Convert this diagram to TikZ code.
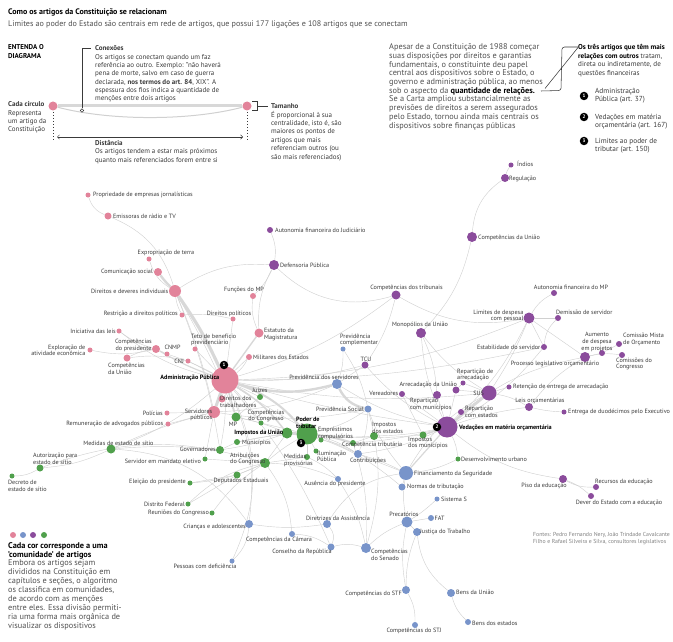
\documentclass[tikz,border=0pt]{standalone}
\usepackage{fontspec}
\setmainfont{PT Sans}
\usetikzlibrary{backgrounds,arrows.meta}
\definecolor{cpk}{HTML}{E2839A}
\definecolor{cbl}{HTML}{7894CA}
\definecolor{cpu}{HTML}{8B4C9C}
\definecolor{cgr}{HTML}{50A04C}
\definecolor{edg}{HTML}{D0D0D0}
\definecolor{edk}{HTML}{D8D8D8}
\definecolor{txt}{HTML}{3A3A3A}
\definecolor{para}{HTML}{505050}
\newcommand\fsz[2]{\fontsize{#1}{#2}\selectfont}
\newcommand\art[5]{\node[dot=#4pt,fill=#5] (#1) at (#2,#3) {};}
\tikzset{
  dot/.style={circle,inner sep=0pt,minimum size=#1,draw=none},
  lb/.style={font=\fsz{6.15}{6.6},text=txt,inner sep=0pt,align=left},
  lbr/.style={lb,align=right},
  lbc/.style={lb,align=center},
  lbb/.style={lb,font=\fsz{6.2}{6.8}\bfseries,text=black},
  badge/.style={circle,fill=black,text=white,inner sep=0pt,minimum size=8.5pt,font=\fsz{5}{5}\bfseries},
  thk/.style={draw=edk,line width=#1},
  ptxt/.style={inner sep=0pt,text=para,align=left},
}
\begin{document}
\begin{tikzpicture}[x=1pt,y=-1pt]
\useasboundingbox (0,0) rectangle (673,642);

% ---------- header ----------
\node[anchor=base west,inner sep=0pt,font=\fsz{8}{9}\bfseries] (title) at (8,14.5) {Como os artigos da Constituição se relacionam};
\node[anchor=base west,inner sep=0pt,font=\fsz{8.1}{9},text=para] (sub) at (8,26.5) {Limites ao poder do Estado são centrais em rede de artigos, que possui 177 ligações e 108 artigos que se conectam};

% ---------- legend diagram ----------
\node[anchor=north west,inner sep=0pt,align=left,font=\fsz{7}{9}\bfseries] (ent) at (8,44.5) {ENTENDA O\\DIAGRAMA};
\node[dot=9pt,fill=cpk] (lgA) at (53,106) {};
\node[dot=9pt,fill=cpk] (lgB) at (247,106) {};
\draw[thk=3pt] (lgA) -- (lgB);
\draw[draw=edg,line width=1pt] (lgA) .. controls (110,121) and (190,121) .. (lgB);
\node[circle,draw=txt,fill=white,inner sep=0pt,minimum size=3.6pt,line width=0.5pt] (lgC) at (82,110.5) {};
\coordinate (lgC1) at (82,48);
\coordinate (lgC2) at (91,48);
\draw[txt,line width=0.5pt] (lgC) -- (lgC1) -- (lgC2);
\coordinate (dA1) at (53,112); \coordinate (dA2) at (53,141);
\coordinate (dB1) at (247,112); \coordinate (dB2) at (247,141);
\draw[txt,line width=0.5pt,dash pattern=on 1.5pt off 1.5pt] (dA1) -- (dA2);
\draw[txt,line width=0.5pt,dash pattern=on 1.5pt off 1.5pt] (dB1) -- (dB2);
\coordinate (arL) at (57,137); \coordinate (arR) at (243,137);
\draw[txt,line width=0.45pt,{Straight Barb[length=2.2pt]}-{Straight Barb[length=2.2pt]}] (arL) -- (arR);
\coordinate (brA) at (252,101.5); \coordinate (brB) at (257,101.5); \coordinate (brC) at (257,110.5); \coordinate (brD) at (252,110.5);
\coordinate (brE) at (257,106); \coordinate (brF) at (268,106);
\draw[txt,line width=0.5pt] (brA) -- (brB) -- (brC) -- (brD);
\draw[txt,line width=0.5pt] (brE) -- (brF);

\node[ptxt,anchor=north west,font=\fsz{7}{8.35},text=txt] (conex) at (95,45.5) {\textbf{Conexões}\\Os artigos se conectam quando um faz\\referência ao outro. Exemplo: "não haverá\\pena de morte, salvo em caso de guerra\\declarada, \textbf{nos termos do art. 84}, XIX". A\\espessura dos fios indica a quantidade de\\menções entre dois artigos};
\node[ptxt,anchor=north west,font=\fsz{7}{8.4},text=txt] (cadac) at (8,101.5) {\textbf{Cada círculo}\\Representa\\um artigo da\\Constituição};
\node[ptxt,anchor=north west,font=\fsz{7}{8.1},text=txt] (dist) at (95,140.5) {\textbf{Distância}\\Os artigos tendem a estar mais próximos\\quanto mais referenciados forem entre si};
\node[ptxt,anchor=north west,font=\fsz{7}{8.4},text=txt] (taman) at (271,103.5) {\textbf{Tamanho}\\É proporcional à sua\\centralidade, isto é, são\\maiores os pontos de\\artigos que mais\\referenciam outros (ou\\são mais referenciados)};

% ---------- middle paragraph ----------
\node[ptxt,anchor=north west,font=\fsz{8.3}{8.72}] (mainp) at (389,43.5) {Apesar de a Constituição de 1988 começar\\suas disposições por direitos e garantias\\fundamentais, o constituinte deu papel\\central aos dispositivos sobre o Estado, o\\governo e administração pública, ao menos\\sob o aspecto da \textbf{\color{black}quantidade de relações.}\\Se a Carta ampliou substancialmente as\\previsões de direitos a serem assegurados\\pelo Estado, tornou ainda mais centrais os\\dispositivos sobre finanças públicas};
\coordinate (zA) at (578,47); \coordinate (zB) at (562,47); \coordinate (zC) at (561,90.5); \coordinate (zD) at (541,91);
\coordinate (zE) at (545,88.5); \coordinate (zF) at (578,47.5);
\draw[txt,line width=0.55pt,rounded corners=2.5pt] (zA) -- (zB) -- (zC) -- (zD);
\draw[txt,line width=0.55pt] (zE) -- (zF);

% ---------- right column ----------
\node[ptxt,anchor=north west,font=\fsz{7.1}{8.7},text=txt] (tres) at (578,44) {\textbf{\color{black}Os três artigos que têm mais}\\\textbf{\color{black}relações com outros} tratam,\\direta ou indiretamente, de\\questões financeiras};
\node[badge] (k1) at (584,96) {1};
\node[badge] (k2) at (584,117) {2};
\node[badge] (k3) at (584,141) {3};
\node[ptxt,anchor=west,font=\fsz{7.3}{8.4},text=txt] (k1t) at (595,95.5) {Administração\\Pública (art. 37)};
\node[ptxt,anchor=west,font=\fsz{7.3}{8.4},text=txt] (k2t) at (595,121.5) {Vedações em matéria\\orçamentária (art. 167)};
\node[ptxt,anchor=west,font=\fsz{7.3}{8.4},text=txt] (k3t) at (595,145.5) {Limites ao poder de\\tributar (art. 150)};

% ---------- bottom-left legend ----------
\node[dot=6pt,fill=cpk] (c1) at (13,535) {};
\node[dot=6pt,fill=cbl] (c2) at (23,535) {};
\node[dot=6pt,fill=cpu] (c3) at (33,535) {};
\node[dot=6pt,fill=cgr] (c4) at (44,535) {};
\node[ptxt,anchor=north west,font=\fsz{8.3}{8.9}] (cores) at (8,542) {\textbf{\color{black}Cada cor corresponde a uma}\\\textbf{\color{black}'comunidade' de artigos}\\Embora os artigos sejam\\divididos na Constituição em\\capítulos e seções, o algoritmo\\os classifica em comunidades,\\de acordo com as menções\\entre eles. Essa divisão permiti-\\ria uma forma mais orgânica de\\visualizar os dispositivos};
\node[ptxt,anchor=north west,font=\fsz{5.8}{6.6},text=gray] (fontes) at (533,532.5) {Fontes: Pedro Fernando Nery, João Trindade Cavalcante\\Filho e Rafael Silveira e Silva, consultores legislativos};

% ---------- network nodes ----------
% pink
\art{pj}{88}{195}{5}{cpk}
\art{em}{108}{216}{7}{cpk}
\art{ex}{149}{259}{5}{cpk}
\art{cs}{158}{272}{8}{cpk}
\art{dd}{175}{291}{12}{cpk}
\art{rp}{182}{315}{5}{cpk}
\art{fm}{253}{296}{6}{cpk}
\art{dp}{233}{319}{5}{cpk}
\art{es}{259}{333}{9}{cpk}
\art{il}{119}{331}{5}{cpk}
\art{cp}{156}{349}{8}{cpk}
\art{cnmp}{167}{354}{5}{cpk}
\art{ea}{90}{350}{5}{cpk}
\art{cu}{127}{358}{7}{cpk}
\art{cnj}{188}{361}{5}{cpk}
\art{tb}{195}{349}{5}{cpk}
\art{md}{249}{357}{6}{cpk}
\art{dt}{222}{399}{7}{cpk}
\art{ap}{225}{380}{27}{cpk}
\art{po}{167}{413}{5}{cpk}
\art{ra}{168}{424}{5}{cpk}
\art{sp}{214}{412}{12}{cpk}
% green
\art{mes}{111}{449}{9}{cgr}
\art{aut}{40}{468}{7}{cgr}
\art{dec}{12}{476}{5}{cgr}
\art{gov}{220}{450}{8}{cgr}
\art{sme}{205}{459}{5}{cgr}
\art{elp}{190}{483}{5}{cgr}
\art{dep}{237}{475}{7}{cgr}
\art{df}{188}{504}{5}{cgr}
\art{rc}{212}{513}{5}{cgr}
\art{jz}{260}{397}{6}{cgr}
\art{mp}{236}{417}{9}{cgr}
\art{cc}{261}{423}{5}{cgr}
\art{iu}{287}{433}{11}{cgr}
\art{pt}{307}{434}{21}{cgr}
\art{ec}{321}{440}{5}{cgr}
\art{mun}{237}{442}{6}{cgr}
\art{ac}{265}{463}{10}{cgr}
\art{mpv}{307}{457}{6}{cgr}
\art{ilu}{316}{451}{5}{cgr}
\art{ct}{353}{443}{6}{cgr}
\art{ie}{374}{436}{8}{cgr}
\art{im}{423}{435}{7}{cgr}
\art{du}{458}{459}{5}{cgr}
% blue
\art{pc}{343}{349}{5}{cbl}
\art{ps}{337}{384}{10}{cbl}
\art{psoc}{368}{409}{7}{cbl}
\art{con}{358}{454}{8}{cbl}
\art{aus}{338}{479}{6}{cbl}
\art{fs}{406}{473}{14}{cbl}
\art{nt}{402}{487}{7}{cbl}
\art{ss}{437}{499}{5}{cbl}
\art{fat}{431}{518}{6}{cbl}
\art{pre}{407}{522}{11}{cbl}
\art{jt}{417}{532}{8}{cbl}
\art{csen}{366}{548}{10}{cbl}
\art{cr}{331}{547}{7}{cbl}
\art{cca}{292}{534}{6}{cbl}
\art{da}{327}{524}{8}{cbl}
\art{ca}{249}{524}{8}{cbl}
\art{pd}{232}{561}{5}{cbl}
\art{stf}{406}{590}{8}{cbl}
\art{stj}{415}{625}{6}{cbl}
\art{bu}{451}{593}{8}{cbl}
\art{be}{468}{622}{6}{cbl}
% purple
\art{ind}{511}{165}{5}{cpu}
\art{reg}{505}{178}{8}{cpu}
\art{cun}{472}{237}{10}{cpu}
\art{afj}{270}{230}{6}{cpu}
\art{def}{274}{265}{10}{cpu}
\art{ctr}{396}{295}{9}{cpu}
\art{mon}{421}{333}{10}{cpu}
\art{tcu}{365}{365}{7}{cpu}
\art{ver}{402}{394}{6}{cpu}
\art{aru}{456}{390}{7}{cpu}
\art{rda}{463}{383}{5}{cpu}
\art{sus}{489}{393}{15}{cpu}
\art{rcm}{437}{395}{8}{cpu}
\art{rce}{461}{412}{6}{cpu}
\art{vmo}{447}{427}{21}{cpu}
\art{ret}{509}{387}{5}{cpu}
\art{lo}{529}{407}{8}{cpu}
\art{edu}{564}{412}{5}{cpu}
\art{est}{544}{347}{6}{cpu}
\art{plo}{585}{357}{10}{cpu}
\art{adp}{602}{353}{6}{cpu}
\art{cmo}{619}{344}{6}{cpu}
\art{ccg}{622}{355}{6}{cpu}
\art{lds}{529}{318}{11}{cpu}
\art{afm}{554}{293}{6}{cpu}
\art{dem}{558}{318}{6}{cpu}
\art{pis}{563}{479}{8}{cpu}
\art{rec}{596}{487}{6}{cpu}
\art{dev}{591}{496}{6}{cpu}

% badges
\node[badge] (b1) at (224,365) {1};
\node[badge] (b2) at (437,427) {2};
\node[badge] (b3) at (301,443) {3};

% ---------- edges ----------
\begin{pgfonlayer}{background}
\begin{scope}[every edge/.style={draw=edg,line width=0.42pt}]
% pink
\path (pj) edge[bend right=25] (em)
 (em) edge[bend left=25] (dd)
 (ex) edge[bend right=20] (dd)
 (dd) edge[bend left=18] (def)
 (dd) edge[bend left=5] (sp)
 (dd) edge[bend left=4] (mp)
 (dd) edge[bend left=6] (gov)
 (dd) edge[bend right=10] (rp)
 (rp) edge[bend left=8] (dp)
 (dp) edge (ap)
 (def) edge[bend left=10] (fm)
 (fm) edge[bend right=15] (es)
 (def) edge[bend right=15] (es)
 (md) edge (ap)
 (tb) edge (ap)
 (cnj) edge (ap)
 (cnmp) edge[bend left=5] (ap)
 (cp) edge (cnmp)
 (il) edge[bend right=10] (cp)
 (il) edge[bend right=12] (ap)
 (ea) edge[bend right=12] (cp)
 (cu) edge[bend left=10] (cp)
 (cu) edge[bend left=10] (cnj)
 (po) edge (sp)
 (ra) edge (sp)
 (dt) edge (ap)
 (ap) edge (jz)
 (ap) edge[bend left=5] (cc)
 (ap) edge[bend right=10] (ctr)
 (ap) edge[bend right=8] (tcu)
 (ap) edge[bend right=10] (lds)
 (ap) edge[bend right=4] (vmo)
 (ap) edge[bend right=6] (fs)
 (ap) edge[bend left=15] (ca)
 (ap) edge[bend left=25] (pd)
 (ap) edge[bend left=8] (cr)
 (ap) edge[bend left=6] (gov)
 (ap) edge[bend left=10] (mes)
 (ap) edge[bend right=12] (md)
 (sp) edge[bend right=5] (mes)
 (sp) edge (sme)
 (sp) edge[bend right=10] (psoc)
 (sp) edge[bend right=10] (ps)
 (ap) edge[bend right=6] (est)
 (ap) edge[bend right=8] (sus)
% green
 (mes) edge[bend left=10] (aut)
 (aut) edge[bend left=15] (dec)
 (aut) edge[bend left=18] (ac)
 (mes) edge[bend left=5] (gov)
 (gov) edge[bend right=5] (iu)
 (gov) edge (mun)
 (sme) edge (ac)
 (elp) edge[bend right=10] (ac)
 (elp) edge (dep)
 (dep) edge (ac)
 (df) edge[bend left=15] (ac)
 (rc) edge[bend left=10] (ac)
 (df) edge (dep)
 (jz) edge (mp)
 (mp) edge[bend left=5] (iu)
 (mp) edge (cc)
 (cc) edge (pt)
 (mun) edge (iu)
 (mun) edge[bend left=5] (pt)
 (ac) edge (iu)
 (ac) edge (mpv)
 (ac) edge[bend left=5] (pt)
 (pt) edge (ec)
 (pt) edge (mpv)
 (pt) edge (ilu)
 (pt) edge[bend right=5] (ie)
 (pt) edge[bend right=5] (im)
 (pt) edge[bend left=10] (con)
 (pt) edge[bend right=10] (psoc)
 (ie) edge (ct)
 (ie) edge[bend right=5] (vmo)
 (du) edge[bend right=10] (vmo)
 (du) edge[bend left=10] (fs)
 (ct) edge[bend right=5] (vmo)
 (ec) edge[bend left=10] (con)
 (mpv) edge[bend left=10] (aus)
% blue
 (ps) edge[bend right=10] (pc)
 (ps) edge (tcu)
 (psoc) edge[bend right=10] (fs)
 (psoc) edge[bend left=10] (con)
 (con) edge[bend left=5] (fs)
 (fs) edge (nt)
 (fs) edge[bend right=10] (pre)
 (fs) edge[bend left=15] (sus)
 (nt) edge[bend right=10] (pt)
 (aus) edge[bend right=10] (ac)
 (aus) edge[bend left=10] (csen)
 (pre) edge (jt)
 (pre) edge (fat)
 (pre) edge[bend right=5] (ss)
 (pre) edge[bend right=10] (csen)
 (pre) edge[bend right=10] (stf)
 (jt) edge[bend right=10] (stf)
 (jt) edge[bend right=22] (bu)
 (stf) edge[bend left=15] (stj)
 (bu) edge[bend right=15] (be)
 (csen) edge[bend right=15] (cr)
 (cr) edge[bend right=15] (cca)
 (cca) edge[bend right=15] (ac)
 (da) edge[bend left=8] (ca)
 (ca) edge[bend left=20] (pd)
 (da) edge[bend left=25] (fs)
 (da) edge[bend left=30] (cr)
 (csen) edge[bend right=10] (ct)
 (csen) edge[bend right=15] (psoc)
 (ca) edge[bend right=25] (mes)
 (pc) edge[bend left=10] (psoc)
% purple
 (ind) edge[bend right=10] (reg)
 (reg) edge[bend right=25] (cun)
 (cun) edge[bend left=15] (mon)
 (afj) edge[bend left=15] (def)
 (def) edge[bend right=30] (ctr)
 (ctr) edge[bend right=20] (lds)
 (ctr) edge[bend left=10] (tcu)
 (mon) edge[bend right=10] (vmo)
 (mon) edge[bend right=10] (sus)
 (mon) edge[bend left=10] (rcm)
 (tcu) edge[bend right=10] (vmo)
 (ver) edge (im)
 (ver) edge (vmo)
 (aru) edge (rda)
 (rda) edge (sus)
 (aru) edge (vmo)
 (aru) edge (sus)
 (rcm) edge (vmo)
 (rce) edge (vmo)
 (rce) edge (sus)
 (sus) edge (ret)
 (sus) edge[bend left=10] (lo)
 (lo) edge[bend right=5] (edu)
 (lo) edge[bend left=10] (plo)
 (lo) edge[bend right=5] (vmo)
 (plo) edge (adp)
 (adp) edge (cmo)
 (plo) edge[bend left=10] (ccg)
 (plo) edge[bend right=15] (vmo)
 (plo) edge (lds)
 (est) edge (lds)
 (est) edge[bend left=10] (vmo)
 (dem) edge (lds)
 (dem) edge[bend right=20] (est)
 (afm) edge[bend right=15] (lds)
 (lds) edge[bend left=10] (vmo)
 (lds) edge[bend left=5] (sus)
 (pis) edge[bend left=15] (vmo)
 (pis) edge[bend right=15] (rec)
 (pis) edge[bend left=10] (dev)
 (ps) edge[bend right=10] (vmo)
 (con) edge[bend right=8] (vmo);
\end{scope}
% thick links
\draw[thk=2.4pt] (cs) to[bend right=5] (dd);
\draw[thk=3.2pt] (dd) to[bend left=5] (ap);
\draw[thk=1.4pt] (es) to (ap);
\draw[thk=1.2pt] (cp) to[bend right=5] (ap);
\draw[thk=3pt] (sp) to (ap);
\draw[thk=2.4pt] (ap) to[bend right=15] (ps);
\draw[thk=2pt] (ap) to[bend left=15] (pt);
\draw[thk=1.5pt] (ap) to[bend left=10] (iu);
\draw[thk=1.5pt] (ap) to (mp);
\draw[thk=3.2pt] (iu) to (pt);
\draw[thk=2pt] (pt) to[bend left=5] (ct);
\draw[thk=1.5pt] (im) to (vmo);
\draw[thk=2.4pt] (ps) to[bend right=25] (psoc);
\draw[thk=1.2pt] (fs) to (vmo);
\draw[thk=2.4pt] (sus) to (vmo);
\end{pgfonlayer}

% ---------- labels ----------
% pink
\node[lb,anchor=west] (Lpj) at (93,195) {Propriedade de empresas jornalísticas};
\node[lb,anchor=west] (Lem) at (113,216) {Emissoras de rádio e TV};
\node[lb] (Lex) at (166,253) {Expropriação de terra};
\node[lb,anchor=east] (Lcs) at (153,272) {Comunicação social};
\node[lb,anchor=east] (Ldd) at (168.5,291) {Direitos e deveres individuais};
\node[lb,anchor=east] (Lrp) at (178,314) {Restrição a direitos políticos};
\node[lb] (Lfm) at (244,290) {Funções do MP};
\node[lb] (Ldp) at (229,314) {Direitos políticos};
\node[lb,anchor=west] (Les) at (264,334.5) {Estatuto da\\Magistratura};
\node[lb,anchor=east] (Lil) at (116,331) {Iniciativa das leis};
\node[lbc,anchor=east] (Lcp) at (152,345.5) {Competências\\do presidente};
\node[lb] (Lcnmp) at (172.5,347) {CNMP};
\node[lbr,anchor=east] (Lea) at (85.5,350.5) {Exploração de\\atividade econômica};
\node[lb,anchor=west] (Lcu) at (108,368.5) {Competências\\da União};
\node[lb,anchor=east] (Lcnj) at (184,361) {CNJ};
\node[lb,anchor=west] (Ltb) at (191,340) {Teto de benefício\\previdenciário};
\node[lb,anchor=west] (Lmd) at (253,357) {Militares dos Estados};
\node[lbb,anchor=east] (Lap) at (219.5,378) {Administração Pública};
\node[lb,anchor=east] (Lpo) at (163,413) {Polícias};
\node[lb,anchor=east] (Lra) at (163.5,424) {Remuneração de advogados públicos};
\node[lbr,anchor=east] (Lsp) at (212.5,415) {Servidores\\públicos};
\node[lb,anchor=west] (Ldt) at (220,402) {Direitos dos\\trabalhadores};
% green
\node[lb] (Lmes) at (118.5,443) {Medidas de estado de sítio};
\node[lb,anchor=west] (Laut) at (33,459) {Autorização para\\estado de sítio};
\node[lb,anchor=west] (Ldec) at (8,486) {Decreto de\\estado de sítio};
\node[lb,anchor=east] (Lgov) at (216,449) {Governadores};
\node[lb,anchor=east] (Lsme) at (201,461) {Servidor em mandato eletivo};
\node[lb,anchor=east] (Lelp) at (186,482) {Eleição do presidente};
\node[lb] (Ldep) at (241,481) {Deputados Estaduais};
\node[lb,anchor=east] (Ldf) at (185,504) {Distrito Federal};
\node[lb,anchor=east] (Lrc) at (209,513) {Reuniões do Congresso};
\node[lb] (Ljz) at (260,390) {Juízes};
\node[lb] (Lmp) at (233,424.5) {MP};
\node[lbc] (Lcc) at (266,416) {Competências\\do Congresso};
\node[lbb,anchor=east] (Liu) at (283.5,433) {Impostos da União};
\node[lbb,anchor=west] (Lpt) at (296,422.5) {Poder de\\tributar};
\node[lb,anchor=west] (Lec) at (318,433.5) {Empréstimos\\compulsórios};
\node[lb,anchor=west] (Lmun) at (242,443) {Municípios};
\node[lb,anchor=west] (Lac) at (230,459) {Atribuições\\do Congresso};
\node[lb,anchor=west] (Lmpv) at (284,460.5) {Medidas\\provisórias};
\node[lb,anchor=west] (Lilu) at (317,456.5) {Iluminação\\Pública};
\node[lb,anchor=west] (Lct) at (342,445) {Competência tributária};
\node[lb,anchor=west] (Lie) at (372,428) {Impostos\\dos estados};
\node[lb,anchor=west] (Lim) at (408,443) {Impostos\\dos municípios};
\node[lb,anchor=west] (Ldu) at (461,459) {Desenvolvimento urbano};
% blue
\node[lb,anchor=west] (Lpc) at (340,340) {Previdência\\complementar};
\node[lb] (Lps) at (324,377) {Previdência dos servidores};
\node[lb,anchor=east] (Lpsoc) at (364,409) {Previdência Social};
\node[lb] (Lcon) at (368,460.5) {Contribuições};
\node[lb] (Laus) at (335,484) {Ausência do presidente};
\node[lb,anchor=west] (Lfs) at (414,474) {Financiamento da Seguridade};
\node[lb,anchor=west] (Lnt) at (407,487) {Normas de tributação};
\node[lb,anchor=west] (Lss) at (441,499) {Sistema S};
\node[lb,anchor=west] (Lfat) at (434.5,518) {FAT};
\node[lb] (Lpre) at (404,514) {Precatórios};
\node[lb,anchor=west] (Ljt) at (420,532) {Justiça do Trabalho};
\node[lb,anchor=west] (Lcsen) at (371,555) {Competências\\do Senado};
\node[lb] (Lcr) at (302,552) {Conselho da República};
\node[lb] (Lcca) at (279,540) {Competências da Câmara};
\node[lb] (Lda) at (338,518) {Diretrizes da Assistência};
\node[lb,anchor=east] (Lca) at (246,527) {Crianças e adolescentes};
\node[lb] (Lpd) at (205,566) {Pessoas com deficiência};
\node[lb,anchor=east] (Lstf) at (402,594) {Competências do STF};
\node[lb] (Lstj) at (414,630.5) {Competências do STJ};
\node[lb,anchor=west] (Lbu) at (456,592) {Bens da União};
\node[lb,anchor=west] (Lbe) at (472,623) {Bens dos estados};
% purple
\node[lb,anchor=west] (Lind) at (517,164) {Índios};
\node[lb,anchor=west] (Lreg) at (509,179) {Regulação};
\node[lb,anchor=west] (Lcun) at (478,238) {Competências da União};
\node[lb,anchor=west] (Lafj) at (275,230) {Autonomia financeira do Judiciário};
\node[lb,anchor=west] (Ldef) at (280,265) {Defensoria Pública};
\node[lb] (Lctr) at (406.5,288) {Competências dos tribunais};
\node[lb] (Lmon) at (420,325) {Monopólios da União};
\node[lb] (Ltcu) at (366,359) {TCU};
\node[lb,anchor=east] (Lver) at (398.5,393) {Vereadores};
\node[lb,anchor=east] (Laru) at (457,384.5) {Arrecadação da União};
\node[lb,anchor=west] (Lrda) at (457,375) {Repartição de\\arrecadação};
\node[lb,anchor=east] (Lsus) at (484,393) {SUS};
\node[lb,anchor=west] (Lrcm) at (410,404.5) {Repartição\\com municípios};
\node[lb,anchor=west] (Lrce) at (465,412) {Repartição\\com estados};
\node[lbb,anchor=west] (Lvmo) at (459,428) {Vedações em matéria orçamentária};
\node[lb,anchor=west] (Lret) at (513,387) {Retenção de entrega de arrecadação};
\node[lb] (Llo) at (540,401) {Leis orçamentárias};
\node[lb,anchor=west] (Ledu) at (568,412) {Entrega de duodécimos pelo Executivo};
\node[lb,anchor=east] (Lest) at (540.5,347) {Estabilidade do servidor};
\node[lb] (Lplo) at (555,364) {Processo legislativo orçamentário};
\node[lbc] (Ladp) at (597,342) {Aumento\\de despesa\\em projetos};
\node[lb,anchor=west] (Lcmo) at (623,339.5) {Comissão Mista\\de Orçamento};
\node[lb,anchor=west] (Lccg) at (616,364) {Comissões do\\Congresso};
\node[lbr,anchor=east] (Llds) at (523.5,316) {Limites de despesa\\com pessoal};
\node[lb] (Lafm) at (571,287) {Autonomia financeira do MP};
\node[lb,anchor=west] (Ldem) at (556,312.5) {Demissão de servidor};
\node[lb] (Lpis) at (544,485.5) {Piso da educação};
\node[lb,anchor=west] (Lrec) at (595,482) {Recursos da educação};
\node[lb] (Ldev) at (619,503) {Dever do Estado com a educação};
\end{tikzpicture}
\end{document}
